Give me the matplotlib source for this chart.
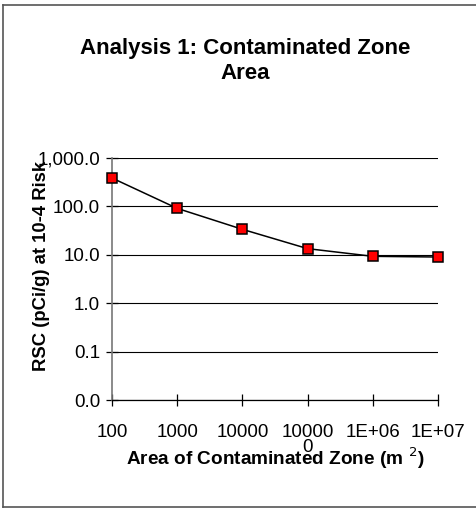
import numpy as np
import matplotlib
matplotlib.use('Agg')
import matplotlib.pyplot as plt
from matplotlib.lines import Line2D

# ─── Data ───
area_labels = ["100", "1000", "10000", "10000\n0", "1E+06", "1E+07"]
rsc_values = [386.0, 91.0, 33.6, 13.4, 9.3, 9.0]
y_ticks = [0.01, 0.1, 1.0, 10.0, 100.0, 1000.0]
y_tick_labels = ["0.0", "0.1", "1.0", "10.0", "100.0", "1,000.0"]

plt.rcParams['font.family'] = ['Liberation Sans', 'DejaVu Sans']

W, H = 477, 508
fig = plt.figure(figsize=(W / 100, H / 100), dpi=100)

# axes placed in pixel coordinates of the reference
x0, x1 = 112, 438
y_top, y_bot = 158, 400
ax = fig.add_axes([x0 / W, 1 - y_bot / H, (x1 - x0) / W, (y_bot - y_top) / H])

xpos = np.arange(len(area_labels))
ax.plot(xpos, rsc_values, color='black', linewidth=1.1, marker='s',
        markersize=7, markerfacecolor='#ff0000', markeredgecolor='black',
        markeredgewidth=1.1, zorder=3, clip_on=False)

ax.set_yscale('log')
ax.set_ylim(0.01, 1000)
ax.set_xlim(0, len(area_labels) - 1)
ax.set_yticks(y_ticks)
ax.set_yticklabels(y_tick_labels)
ax.yaxis.set_minor_locator(matplotlib.ticker.NullLocator())
ax.set_xticks(xpos)
ax.set_xticklabels(area_labels, linespacing=0.8, va='top')

ax.grid(True, axis='y', color='black', linewidth=0.8)
ax.set_axisbelow(True)
for s in ['top', 'right']:
    ax.spines[s].set_visible(False)
ax.spines['left'].set_color('#777777')
ax.spines['left'].set_linewidth(1.2)
ax.spines['bottom'].set_color('black')
ax.spines['bottom'].set_linewidth(0.9)

ax.tick_params(axis='both', direction='inout', length=9, width=0.9,
               labelsize=13.5, colors='black')
ax.tick_params(axis='y', pad=4)
ax.tick_params(axis='x', pad=13)

ax.set_xlabel('Area of Contaminated Zone (m $^{2}$)', fontsize=13.7,
              fontweight='bold', labelpad=-7)
ax.set_ylabel('RSC (pCi/g) at 10-4 Risk', fontsize=13.3, fontweight='bold',
              va='center')
ax.yaxis.set_label_coords((42 - x0) / (x1 - x0), (y_bot - 266) / (y_bot - y_top))

fig.text(245 / W, 1 - 61 / H, 'Analysis 1: Contaminated Zone\nArea',
         ha='center', va='center', fontsize=16, fontweight='bold',
         linespacing=1.3)

# outer chart border (right edge is cut off in the reference)
bx0, by0, by1 = 3 / W, 1 - 5 / H, 1 - 506.5 / H
for xs, ys in [([bx0, 1.0], [by0, by0]), ([bx0, bx0], [by0, by1]),
               ([bx0, 1.0], [by1, by1])]:
    fig.add_artist(Line2D(xs, ys, color='#555555', linewidth=1.2,
                          transform=fig.transFigure))

fig.savefig('out.png', dpi=100)
